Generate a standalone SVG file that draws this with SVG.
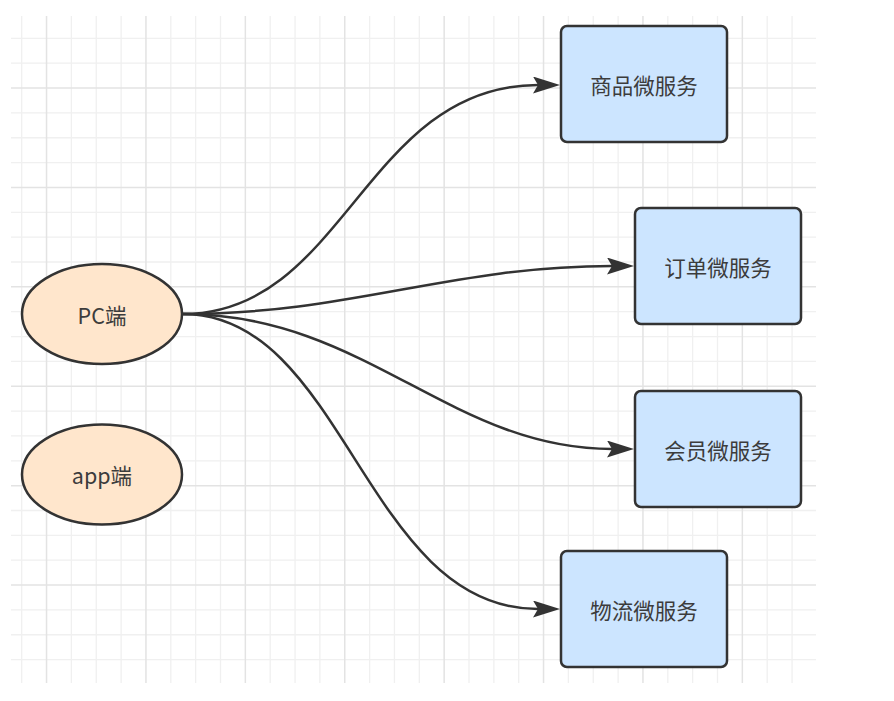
<svg xmlns="http://www.w3.org/2000/svg" width="894" height="701" viewBox="0 0 894 701">
<style>
.minor{stroke:#F0F0F0;stroke-width:1.3;fill:none}
.major{stroke:#E3E3E3;stroke-width:1.5;fill:none}
.svc{fill:#CCE5FF;stroke:#333333;stroke-width:2.5}
.client{fill:#FFE6CC;stroke:#333333;stroke-width:2.5}
.lbl{font-family:"Microsoft YaHei","Noto Sans CJK SC","Noto Sans",sans-serif;font-size:21.5px;fill:#3C3C3C;text-anchor:middle;dominant-baseline:central}
.edge{fill:none;stroke:#333333;stroke-width:2.5}
</style>
<defs>
<marker id="arr" markerUnits="userSpaceOnUse" markerWidth="28" markerHeight="18" refX="5" refY="8.5" orient="auto">
<path d="M0,0 L27,8.5 L0,17 L5,8.5 z" fill="#333333"/>
</marker>
</defs>
<rect width="894" height="701" fill="#FFFFFF"/>
<g id="grid">
<path class="minor" d="M21.7 16V683M71.4 16V683M96.25 16V683M121.1 16V683M170.8 16V683M195.65 16V683M220.5 16V683M270.2 16V683M295.05 16V683M319.9 16V683M369.6 16V683M394.45 16V683M419.3 16V683M469 16V683M493.85 16V683M518.7 16V683M568.4 16V683M593.25 16V683M618.1 16V683M667.8 16V683M692.65 16V683M717.5 16V683M767.2 16V683M792.05 16V683"/>
<path class="minor" d="M11 38.35H816M11 63.2H816M11 112.9H816M11 137.75H816M11 162.6H816M11 212.3H816M11 237.15H816M11 262H816M11 311.7H816M11 336.55H816M11 361.4H816M11 411.1H816M11 435.95H816M11 460.8H816M11 510.5H816M11 535.35H816M11 560.2H816M11 609.9H816M11 634.75H816M11 659.6H816"/>
<path class="major" d="M46.55 16V683M145.95 16V683M245.35 16V683M344.75 16V683M444.15 16V683M543.55 16V683M642.95 16V683M742.35 16V683"/>
<path class="major" d="M11 88.05H816M11 187.45H816M11 286.85H816M11 386.25H816M11 485.65H816M11 585.05H816"/>
</g>
<g id="connectors">
<path class="edge" marker-end="url(#arr)" d="M183,314 C345,314 365,85 538,85"/>
<path class="edge" marker-end="url(#arr)" d="M183,314 C350,314 450,266 612,266"/>
<path class="edge" marker-end="url(#arr)" d="M183,314 C365,314 450,449 612,449"/>
<path class="edge" marker-end="url(#arr)" d="M183,314 C345,314 365,609 538,609"/>
</g>
<g id="pc">
<ellipse class="client" cx="102" cy="314" rx="80" ry="50"/>
<text class="lbl" x="102" y="314">PC端</text>
</g>
<g id="app">
<ellipse class="client" cx="102" cy="474.5" rx="80" ry="50"/>
<text class="lbl" x="102" y="474.5">app端</text>
</g>
<g id="goods">
<rect class="svc" x="561" y="26" width="166" height="116" rx="6"/>
<text class="lbl" x="644" y="84">商品微服务</text>
</g>
<g id="order">
<rect class="svc" x="635" y="208" width="166" height="116" rx="6"/>
<text class="lbl" x="718" y="266">订单微服务</text>
</g>
<g id="member">
<rect class="svc" x="635" y="391" width="166" height="116" rx="6"/>
<text class="lbl" x="718" y="449">会员微服务</text>
</g>
<g id="logistics">
<rect class="svc" x="561" y="551" width="166" height="116" rx="6"/>
<text class="lbl" x="644" y="609">物流微服务</text>
</g>
</svg>
